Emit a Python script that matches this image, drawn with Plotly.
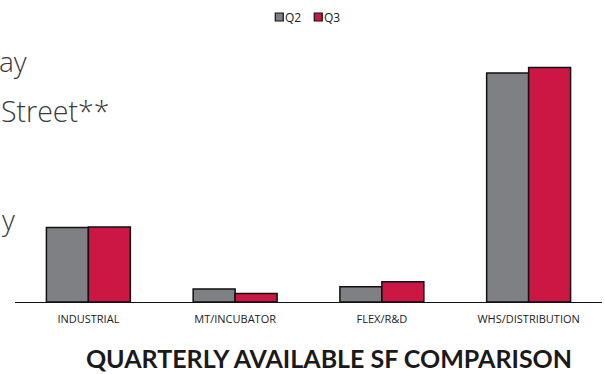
import plotly.graph_objects as go

categories = ["INDUSTRIAL", "MT/INCUBATOR", "FLEX/R&D", "WHS/DISTRIBUTION"]
q2_values = [745000, 130000, 153000, 2290000]
q3_values = [750000, 86000, 203000, 2346000]
series_names = ["Q2", "Q3"]
series_colors = ["#7f8084", "#cc1744"]
chart_title = "QUARTERLY AVAILABLE SF COMPARISON"
side_fragments = ["ay", "Street**", "y"]

W, H = 605, 374
L, R, T, B = 14.5, 3, 40, 72
PW = W - L - R
PH = H - T - B

fig = go.Figure()
for name, vals, col in zip(series_names, [q2_values, q3_values], series_colors):
    fig.add_trace(go.Bar(
        x=categories, y=vals, name=name, showlegend=False,
        marker=dict(color=col, line=dict(color="#111111", width=1.5)),
    ))

def px_to_paper_x(px):
    return (px - L) / PW

def px_to_paper_y(py):
    return (H - B - py) / PH

# left-side text fragments (clipped text from neighbouring content)
frag_pos = [(29, 61, 28), (111, 111, 28.5), (17, 219, 28)]
for txt, (xr, yc, fs) in zip(side_fragments, frag_pos):
    fig.add_annotation(
        text=txt, xref="paper", yref="paper",
        x=px_to_paper_x(xr), y=px_to_paper_y(yc),
        xanchor="right", yanchor="middle", showarrow=False,
        font=dict(family="Open Sans", size=fs, color="#3a3a3a", weight=300),
    )

# compact legend
legend_x = [275, 314]
for name, col, lx in zip(series_names, series_colors, legend_x):
    fig.add_shape(
        type="rect", xref="paper", yref="paper",
        x0=px_to_paper_x(lx), x1=px_to_paper_x(lx + 8),
        y0=px_to_paper_y(21), y1=px_to_paper_y(13),
        fillcolor=col, line=dict(color="#111111", width=1.2),
    )
    fig.add_annotation(
        text=name, xref="paper", yref="paper",
        x=px_to_paper_x(lx + 9), y=px_to_paper_y(17),
        xanchor="left", yanchor="middle", showarrow=False,
        font=dict(family="Open Sans", size=12, color="#222222"),
        borderpad=0,
    )

fig.update_layout(
    width=W, height=H,
    margin=dict(l=L, r=R, t=T, b=B),
    paper_bgcolor="white", plot_bgcolor="white",
    barmode="group", bargap=0.428, bargroupgap=0,
    showlegend=False,
    title=dict(
        text="<b>" + chart_title + "</b>",
        x=329 / W, xanchor="center", xref="container",
        y=1 - 359 / H, yanchor="middle", yref="container",
        font=dict(family="Lato", size=25, color="#1a1a1a", weight=900),
    ),
    xaxis=dict(
        showline=True, linecolor="#111111", linewidth=1.2,
        ticks="", showgrid=False, zeroline=False,
        ticklabelstandoff=7,
        tickfont=dict(family="Open Sans", size=11, color="#222222"),
    ),
    yaxis=dict(
        range=[0, PH * 10000], visible=False,
        showgrid=False, zeroline=False,
    ),
)

fig.write_html("out.html")
